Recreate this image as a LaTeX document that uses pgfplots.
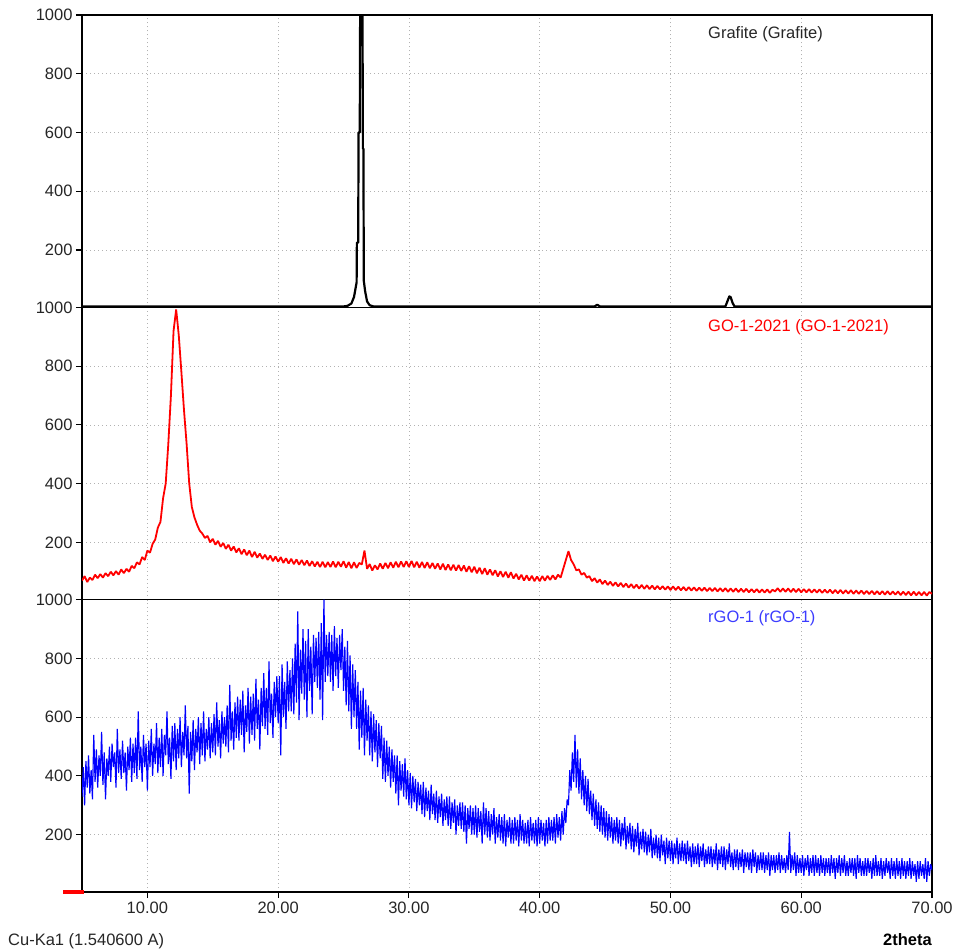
\documentclass[border=0pt]{standalone}
\usepackage{pgfplots}
\usepackage{pgfplotstable}
\pgfplotsset{compat=1.18}
\usepackage{fontspec}
\setmainfont{Liberation Sans}

% rGO-1, 2theta = 5.0, 5.1, ..., 70.0
\pgfplotstableread[row sep=\\]{y\\
330\\430\\300\\450\\360\\470\\340\\420\\320\\540\\
380\\490\\360\\470\\400\\550\\370\\480\\320\\460\\
400\\500\\380\\510\\430\\480\\360\\560\\410\\490\\
390\\520\\410\\480\\350\\500\\420\\530\\380\\510\\
410\\530\\390\\620\\420\\500\\380\\540\\430\\510\\
350\\520\\430\\560\\400\\510\\440\\580\\410\\530\\
430\\560\\400\\540\\470\\620\\440\\530\\390\\570\\
450\\580\\420\\560\\460\\600\\430\\550\\470\\640\\
460\\570\\340\\550\\450\\590\\420\\560\\480\\600\\
440\\580\\470\\620\\450\\560\\490\\600\\460\\580\\
480\\610\\470\\650\\500\\590\\460\\620\\510\\600\\
500\\640\\480\\710\\520\\620\\490\\650\\530\\670\\
520\\660\\540\\690\\480\\640\\550\\700\\510\\670\\
540\\680\\520\\730\\560\\660\\490\\700\\570\\750\\
560\\700\\540\\790\\580\\680\\530\\720\\600\\740\\
580\\740\\470\\780\\600\\720\\560\\790\\620\\760\\
620\\800\\610\\850\\650\\960\\590\\830\\680\\900\\
660\\860\\600\\900\\690\\840\\610\\880\\720\\870\\
700\\890\\660\\920\\590\\1000\\720\\880\\740\\890\\
720\\880\\690\\910\\740\\870\\700\\880\\760\\900\\
690\\840\\640\\860\\620\\810\\560\\780\\600\\760\\
560\\720\\490\\690\\530\\700\\470\\660\\520\\640\\
470\\620\\450\\610\\480\\590\\430\\580\\460\\570\\
390\\530\\380\\520\\400\\500\\360\\490\\380\\470\\
340\\470\\300\\450\\350\\440\\330\\460\\320\\420\\
300\\410\\290\\400\\310\\390\\280\\380\\300\\370\\
270\\380\\260\\360\\280\\350\\250\\370\\270\\340\\
250\\350\\240\\330\\260\\340\\230\\320\\250\\330\\
230\\330\\220\\310\\240\\320\\200\\300\\230\\310\\
220\\310\\210\\300\\170\\290\\220\\300\\200\\290\\
200\\300\\190\\290\\210\\280\\170\\310\\200\\290\\
190\\280\\180\\270\\200\\290\\170\\260\\190\\270\\
180\\260\\170\\270\\160\\250\\190\\260\\170\\250\\
170\\260\\180\\250\\160\\270\\180\\250\\170\\240\\
170\\250\\160\\260\\180\\240\\170\\250\\160\\260\\
170\\250\\180\\240\\160\\250\\170\\260\\180\\250\\
180\\260\\170\\270\\190\\260\\180\\280\\200\\290\\
240\\320\\300\\420\\350\\480\\380\\540\\360\\490\\
340\\460\\320\\420\\300\\400\\280\\390\\270\\350\\
250\\340\\230\\320\\220\\310\\210\\300\\200\\290\\
190\\280\\180\\270\\190\\260\\170\\250\\180\\260\\
170\\250\\160\\240\\180\\260\\150\\230\\170\\240\\
150\\230\\140\\220\\160\\240\\130\\210\\150\\220\\
140\\210\\130\\200\\140\\220\\120\\190\\130\\200\\
120\\190\\110\\200\\130\\180\\100\\190\\120\\180\\
110\\180\\100\\170\\120\\190\\100\\170\\110\\180\\
110\\170\\100\\180\\110\\160\\90\\170\\100\\160\\
100\\170\\90\\160\\110\\170\\90\\150\\100\\160\\
100\\160\\90\\150\\100\\170\\80\\150\\100\\160\\
90\\160\\80\\150\\100\\170\\90\\140\\80\\150\\
90\\150\\80\\140\\90\\150\\70\\140\\90\\140\\
80\\140\\70\\150\\90\\140\\70\\130\\80\\140\\
80\\140\\70\\130\\80\\140\\60\\130\\80\\130\\
70\\130\\80\\140\\70\\130\\80\\120\\70\\130\\
80\\210\\70\\130\\80\\140\\60\\130\\70\\120\\
70\\130\\60\\120\\80\\130\\60\\120\\70\\130\\
60\\130\\70\\120\\60\\130\\70\\120\\60\\120\\
70\\120\\60\\130\\70\\120\\50\\120\\70\\130\\
60\\120\\70\\130\\60\\110\\60\\120\\70\\120\\
60\\120\\50\\130\\70\\120\\60\\110\\60\\120\\
60\\120\\70\\110\\50\\120\\60\\130\\60\\110\\
60\\120\\50\\110\\60\\120\\70\\110\\50\\120\\
60\\110\\50\\120\\60\\110\\50\\120\\60\\110\\
50\\110\\60\\120\\50\\110\\60\\100\\40\\110\\
50\\110\\60\\100\\50\\120\\40\\110\\60\\100\\
80\\
}\rgo

% GO-1-2021, 2theta = 5.0, 5.2, ..., 70.0
\pgfplotstableread[row sep=\\]{y\\
70\\85\\65\\80\\72\\90\\78\\92\\80\\95\\
85\\100\\88\\102\\90\\108\\95\\110\\100\\120\\
112\\132\\125\\150\\140\\172\\165\\195\\210\\250\\
270\\350\\400\\535\\700\\919\\993\\905\\780\\650\\
535\\400\\320\\285\\260\\240\\230\\215\\222\\200\\
212\\192\\205\\185\\198\\178\\192\\172\\186\\166\\
180\\160\\176\\156\\172\\150\\168\\148\\162\\144\\
158\\140\\155\\136\\152\\134\\150\\130\\146\\128\\
144\\126\\142\\124\\140\\122\\138\\120\\136\\118\\
134\\116\\134\\115\\133\\116\\135\\115\\134\\117\\
136\\114\\133\\112\\132\\113\\130\\125\\172\\110\\
126\\104\\122\\108\\128\\110\\130\\112\\132\\114\\
134\\115\\135\\116\\136\\116\\137\\115\\134\\114\\
133\\113\\132\\112\\130\\110\\128\\108\\127\\106\\
125\\105\\124\\104\\123\\103\\121\\100\\119\\98\\
117\\95\\114\\92\\112\\90\\108\\88\\105\\84\\
102\\82\\100\\80\\98\\77\\93\\74\\90\\70\\
88\\70\\86\\68\\84\\68\\85\\70\\86\\72\\
88\\74\\90\\80\\110\\140\\170\\140\\125\\105\\
108\\90\\96\\80\\85\\68\\78\\63\\74\\58\\
70\\55\\66\\52\\64\\50\\62\\48\\60\\46\\
58\\44\\56\\43\\55\\42\\54\\41\\53\\40\\
52\\40\\51\\39\\50\\38\\50\\38\\49\\37\\
48\\36\\48\\36\\47\\35\\46\\35\\46\\34\\
45\\34\\45\\33\\44\\33\\44\\32\\43\\32\\
43\\31\\42\\31\\42\\30\\41\\30\\41\\29\\
40\\29\\40\\28\\39\\33\\44\\32\\43\\32\\
43\\31\\42\\31\\42\\30\\41\\30\\41\\29\\
40\\29\\40\\28\\39\\28\\39\\27\\38\\27\\
38\\26\\37\\26\\37\\25\\36\\25\\36\\24\\
35\\24\\35\\23\\34\\23\\34\\22\\34\\22\\
33\\22\\33\\21\\32\\21\\32\\20\\32\\20\\
31\\20\\31\\19\\31\\25\\
}\go

\pgfplotsset{
  panel/.style={
    scale only axis, width=850pt, height=292.33pt,
    anchor=south west,
    xmin=5, xmax=70, ymin=5, ymax=1000,
    xtick={10,20,...,70},
    ytick={200,400,600,800,1000},
    yticklabels={200,400,600,800,1000},
    tick pos=left, tick align=outside, major tick length=6pt,
    grid=major,
    major grid style={black!30, line width=0.6pt, dash pattern=on 1pt off 3pt},
    axis line style={line width=1.3pt},
    tick style={line width=1.1pt, black},
    ticklabel style={font=\fontsize{16.5}{18}\selectfont, text=black!85},
  },
  toppanel/.style={panel, xticklabels={}, xtick style={draw=none}},
}

\begin{document}
\begin{tikzpicture}
\useasboundingbox (0pt,0pt) rectangle (960pt,951pt);

% top panel: Grafite
\begin{axis}[toppanel, at={(82pt,643.67pt)}]
\addplot[black, line width=2.2pt, line join=round] coordinates {
(5,8)(25.0,8)(25.3,10)(25.6,18)(25.8,40)(25.9,65)(26.0,90)(26.02,225)(26.12,225)
(26.15,600)(26.24,600)(26.27,1010)(26.45,1010)(26.48,545)(26.52,545)(26.55,95)
(26.65,60)(26.8,25)(27.0,12)(27.3,8)(44.2,8)(44.4,14)(44.6,8)
(54.2,8)(54.35,25)(54.5,42)(54.6,40)(54.75,20)(54.9,8)(70,8)};
\end{axis}

% middle panel: GO-1-2021
\begin{axis}[toppanel, at={(82pt,351.33pt)}]
\addplot[red, line width=1.8pt, line join=bevel] table[x expr=5+0.2*\coordindex, y=y] {\go};
\end{axis}

% bottom panel: rGO-1
\begin{axis}[panel, at={(82pt,59pt)},
  xticklabels={10.00,20.00,30.00,40.00,50.00,60.00,70.00}]
\addplot[blue, line width=1.15pt, line join=bevel] table[x expr=5+0.1*\coordindex, y=y] {\rgo};
\end{axis}

\fill[red] (63pt,57pt) rectangle (84pt,61pt);

\node[anchor=base west, inner sep=0pt, font=\fontsize{16.5}{18}\selectfont, text=black!85] at (708pt,912pt) {Grafite (Grafite)};
\node[anchor=base west, inner sep=0pt, font=\fontsize{16.5}{18}\selectfont, text=red] at (708pt,619pt) {GO-1-2021 (GO-1-2021)};
\node[anchor=base west, inner sep=0pt, font=\fontsize{16.5}{18}\selectfont, text={rgb,255:red,60;green,60;blue,255}] at (708pt,329pt) {rGO-1 (rGO-1)};

\node[anchor=base west, inner sep=0pt, font=\fontsize{16.5}{18}\selectfont, text=black!85] at (8pt,6pt) {Cu-Ka1 (1.540600 A)};
\node[anchor=base east, inner sep=0pt, font=\fontsize{16.5}{18}\selectfont\bfseries] at (932pt,6pt) {2theta};
\end{tikzpicture}
\end{document}
